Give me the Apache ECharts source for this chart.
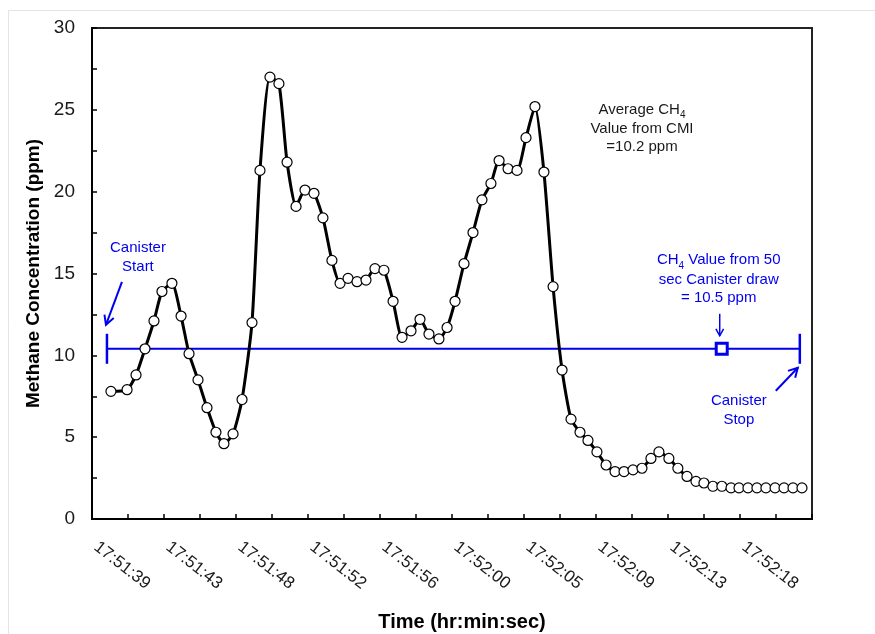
<!DOCTYPE html>
<html><head><meta charset="utf-8">
<script src="https://cdn.jsdelivr.net/npm/echarts@6/dist/echarts.min.js"></script>
<style>html,body{margin:0;padding:0;background:#fff}#c{width:875px;height:634px}</style>
</head><body><div id="c"></div>
<script>
// X tick labels (every 13/3 s from 17:51:39)
const tickLabels = ['17:51:39','17:51:43','17:51:48','17:51:52','17:51:56','17:52:00','17:52:05','17:52:09','17:52:13','17:52:18'];
// seconds since 17:51:39
const timeSec = [1.14,2.11,2.65,3.19,3.73,4.21,4.81,5.36,5.84,6.38,6.92,7.46,7.94,8.49,9.03,9.63,10.11,10.71,11.25,11.74,12.28,12.82,13.36,13.90,14.44,14.93,15.41,15.95,16.49,17.03,17.57,18.12,18.66,19.20,19.74,20.28,20.88,21.37,21.85,22.39,22.93,23.47,24.01,24.50,25.04,25.58,26.12,26.66,27.20,27.75,28.29,28.83,29.37,29.85,30.39,30.94,31.48,32.02,32.56,33.10,33.64,34.12,34.72,35.26,35.81,36.35,36.83,37.37,37.91,38.46,38.94,39.48,40.02,40.56,41.11,41.65,42.19,42.73];
// methane concentration (ppm)
const methane = [7.8,7.9,8.8,10.4,12.1,13.9,14.4,12.4,10.1,8.5,6.8,5.3,4.6,5.2,7.3,12.0,21.3,27.0,26.6,21.8,19.1,20.1,19.9,18.4,15.8,14.4,14.7,14.5,14.6,15.3,15.2,13.3,11.1,11.5,12.2,11.3,11.0,11.7,13.3,15.6,17.5,19.5,20.5,21.9,21.4,21.3,23.3,25.2,21.2,14.2,9.1,6.1,5.3,4.8,4.1,3.3,2.9,2.9,3.0,3.1,3.7,4.1,3.7,3.1,2.6,2.3,2.2,2.0,2.0,1.9,1.9,1.9,1.9,1.9,1.9,1.9,1.9,1.9];
// canister: start, value marker, stop (seconds) and level (ppm)
const canisterTimes = [0.9, 37.9, 42.6];
const canisterLevel = 10.4;

const FONT = "'Liberation Sans', Arial, sans-serif";
const BLUE = '#0000ee';
const STEP = 13 / 3;

const chart = echarts.init(document.getElementById('c'));
const option = {
  animation: false,
  backgroundColor: '#fff',
  grid: { left: 92, right: 63, top: 28, bottom: 115, containLabel: false, outerBoundsMode: 'none', show: true, borderColor: '#222', borderWidth: 2, backgroundColor: 'transparent' },
  xAxis: {
    type: 'value', min: 0, max: 10 * STEP, interval: STEP,
    axisLine: { lineStyle: { color: '#000', width: 2 } },
    axisTick: { inside: true, length: 5, lineStyle: { color: '#000', width: 1.5 } },
    minorTick: { show: true, splitNumber: 2, length: 5, lineStyle: { color: '#000', width: 1.5 } },
    splitLine: { show: false },
    axisLabel: {
      rotate: -38, margin: 23, fontSize: 17, color: '#1a1a1a', fontFamily: FONT, padding: [0, 0, 0, 5],
      formatter: v => tickLabels[Math.round(v / STEP)] || ''
    },
    name: 'Time (hr:min:sec)', nameLocation: 'middle', nameGap: 93,
    nameTextStyle: { fontWeight: 'bold', fontSize: 20, color: '#000', fontFamily: FONT, padding: [0, 0, 0, 20] }
  },
  yAxis: {
    type: 'value', min: 0, max: 30, interval: 5,
    axisLine: { show: true, lineStyle: { color: '#000', width: 2 } },
    axisTick: { inside: true, length: 5, lineStyle: { color: '#000', width: 1.5 } },
    minorTick: { show: true, splitNumber: 2, length: 5, lineStyle: { color: '#000', width: 1.5 } },
    splitLine: { show: false },
    axisLabel: { fontSize: 19, margin: 17, color: '#1a1a1a', fontFamily: FONT },
    name: 'Methane Concentration (ppm)', nameLocation: 'middle', nameGap: 48,
    nameTextStyle: { fontWeight: 'bold', fontSize: 19, color: '#000', fontFamily: FONT }
  },
  series: [
    {
      type: 'line', z: 2,
      data: [
        { value: [canisterTimes[0], canisterLevel], symbol: 'rect', symbolSize: [2.5, 30] },
        { value: [canisterTimes[1], canisterLevel], symbol: 'rect', symbolSize: 11, itemStyle: { color: '#fff', borderColor: BLUE, borderWidth: 3 } },
        { value: [canisterTimes[2], canisterLevel], symbol: 'rect', symbolSize: [2.5, 30] }
      ],
      lineStyle: { color: BLUE, width: 2 },
      itemStyle: { color: BLUE },
      showAllSymbol: true
    },
    {
      type: 'line', z: 3,
      data: timeSec.map((t, i) => [t, methane[i]]),
      smooth: 0.2,
      symbol: 'circle', symbolSize: 10, showAllSymbol: true,
      itemStyle: { color: '#fff', borderColor: '#000', borderWidth: 1.2 },
      lineStyle: { color: '#000', width: 3 }
    }
  ]
};
chart.setOption(option);

function arrow(x1, y1, x2, y2, color, w, head) {
  const a = Math.atan2(y2 - y1, x2 - x1);
  const L = head, W = head * 0.55;
  const bx = x2 - L * Math.cos(a), by = y2 - L * Math.sin(a);
  const l = [bx + W * Math.sin(a), by - W * Math.cos(a)];
  const r = [bx - W * Math.sin(a), by + W * Math.cos(a)];
  return [
    { type: 'line', shape: { x1, y1, x2, y2 }, style: { stroke: color, lineWidth: w } },
    { type: 'polyline', shape: { points: [l, [x2, y2], r] }, style: { stroke: color, lineWidth: w, fill: null } }
  ];
}
function txt(x, y, text, color, rich) {
  const o = { type: 'text', x, y, style: { text, fill: color, fontSize: 15, fontFamily: FONT, align: 'center', verticalAlign: 'middle' } };
  if (rich) o.style.rich = {
    n: { fontSize: 15, lineHeight: 18, fill: color, fontFamily: FONT, verticalAlign: 'top' },
    s: { fontSize: 10, lineHeight: 10, padding: [8, 0, 0, 0], fill: color, fontFamily: FONT, verticalAlign: 'top' }
  };
  return o;
}

const ps = chart.convertToPixel({ gridIndex: 0 }, [canisterTimes[0], canisterLevel]);
const pm = chart.convertToPixel({ gridIndex: 0 }, [canisterTimes[1], canisterLevel]);
const pe = chart.convertToPixel({ gridIndex: 0 }, [canisterTimes[2], canisterLevel]);

const g = [
  { type: 'rect', z: -10, shape: { x: 8.5, y: 10.5, width: 1000, height: 1000 }, style: { fill: null, stroke: '#e4e4e4', lineWidth: 1 } },
  txt(642, 111, '{n|Average CH}{s|4}', '#1a1a1a', true),
  txt(642, 129, 'Value from CMI', '#1a1a1a'),
  txt(642, 147, '=10.2 ppm', '#1a1a1a'),
  txt(ps[0] + 31, ps[1] - 101, 'Canister', BLUE),
  txt(ps[0] + 31, ps[1] - 82, 'Start', BLUE),
  ...arrow(ps[0] + 15, ps[1] - 67, ps[0] - 1, ps[1] - 24, BLUE, 2, 9),
  txt(pe[0] - 61, pe[1] + 52, 'Canister', BLUE),
  txt(pe[0] - 61, pe[1] + 71, 'Stop', BLUE),
  ...arrow(pe[0] - 24, pe[1] + 42, pe[0] - 2, pe[1] + 19, BLUE, 2, 9),
  txt(pm[0] - 3, pm[1] - 87, '{n|CH}{s|4}{n| Value from 50}', BLUE, true),
  txt(pm[0] - 3, pm[1] - 69, 'sec Canister draw', BLUE),
  txt(pm[0] - 3, pm[1] - 51, '= 10.5 ppm', BLUE),
  ...arrow(pm[0] - 2, pm[1] - 35, pm[0] - 2, pm[1] - 13, BLUE, 1.5, 7)
];
chart.setOption({ graphic: g });
</script>
</body></html>
